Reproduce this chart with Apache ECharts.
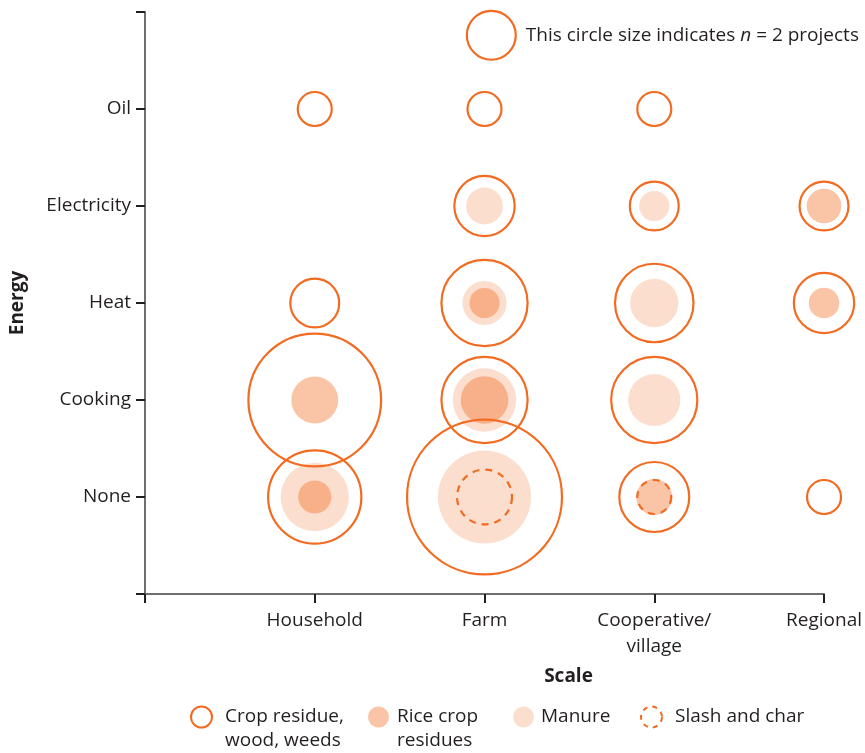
<!DOCTYPE html>
<html><head><meta charset="utf-8">
<script src="https://cdn.jsdelivr.net/npm/echarts@6/dist/echarts.min.js"></script>
<style>html,body{margin:0;padding:0;background:#fff}#c{width:865px;height:753px}</style>
</head><body><div id="c"></div>
<script>
// ---- data ----
const scaleCats = ['Household', 'Farm', 'Cooperative/\nvillage', 'Regional'];
const energyCats = ['None', 'Cooking', 'Heat', 'Electricity', 'Oil'];
// [scale, energy, number of projects]
const cropResidue = [
  ['Household','Oil',1],['Household','Heat',2],['Household','Cooking',14],['Household','None',7],
  ['Farm','Oil',1],['Farm','Electricity',3],['Farm','Heat',6],['Farm','Cooking',6],['Farm','None',19],
  ['Cooperative/\nvillage','Oil',1],['Cooperative/\nvillage','Electricity',2],['Cooperative/\nvillage','Heat',5],['Cooperative/\nvillage','Cooking',6],['Cooperative/\nvillage','None',4],
  ['Regional','Electricity',2],['Regional','Heat',3],['Regional','None',1]
];
const riceResidues = [
  ['Household','Cooking',1.7],['Household','None',0.85],
  ['Farm','Heat',0.7],['Farm','Cooking',1.75],
  ['Cooperative/\nvillage','None',1],
  ['Regional','Electricity',0.93],['Regional','Heat',0.72]
];
const manure = [
  ['Household','None',3.6],
  ['Farm','Electricity',1.05],['Farm','Heat',1.5],['Farm','Cooking',3.1],['Farm','None',6.7],
  ['Cooperative/\nvillage','Electricity',0.7],['Cooperative/\nvillage','Heat',1.8],['Cooperative/\nvillage','Cooking',2.1]
];
const slashChar = [
  ['Farm','None',2.5],['Cooperative/\nvillage','None',1]
];
// size key bubble: [scale position, energy position, n]
const keyBubble = [[2.04, 5.76, 2]];

// ---- chart ----
const ORANGE = '#F26B21';
const TXT = '#231F20';
const FONT = 'Open Sans';
const FS = 19;
const xi = s => scaleCats.indexOf(s) + 1;
const yi = s => energyCats.indexOf(s) + 1;
const toPts = arr => arr.map(d => [xi(d[0]), yi(d[1]), d[2]]);
const size = n => 36 * Math.sqrt(n);

const chart = echarts.init(document.getElementById('c'));
const legendBase = {
  orient: 'horizontal', padding: 0, itemWidth: 21, itemHeight: 21, itemGap: 0,
  selectedMode: false,
  textStyle: { color: TXT, fontFamily: FONT, fontSize: FS, lineHeight: 24 }
};
chart.setOption({
  animation: false,
  grid: { left: 143, right: 40, top: 12, bottom: 159, containLabel: false },
  xAxis: {
    type: 'value', min: 0, max: 4, interval: 1,
    name: 'Scale', nameLocation: 'middle', nameGap: 73,
    nameTextStyle: { color: TXT, fontFamily: FONT, fontSize: FS, fontWeight: 'bold', padding: [0, 0, 0, 168] },
    axisLine: { lineStyle: { color: '#6D6E71', width: 2 } },
    axisTick: { length: 9, lineStyle: { color: TXT, width: 2 } },
    axisLabel: { margin: 14, color: TXT, fontFamily: FONT, fontSize: FS, lineHeight: 26,
      formatter: v => scaleCats[v - 1] || '' },
    splitLine: { show: false }
  },
  yAxis: {
    type: 'value', min: 0, max: 6, interval: 1,
    name: 'Energy', nameLocation: 'middle', nameGap: 118,
    nameTextStyle: { color: TXT, fontFamily: FONT, fontSize: FS, fontWeight: 'bold' },
    axisLine: { show: true, lineStyle: { color: '#6D6E71', width: 2 } },
    axisTick: { show: true, length: 9, lineStyle: { color: TXT, width: 2 } },
    axisLabel: { margin: 14, color: TXT, fontFamily: FONT, fontSize: FS,
      formatter: v => energyCats[v - 1] || '' },
    splitLine: { show: false }
  },
  legend: [
    Object.assign({}, legendBase, { left: 190, top: 681, data: [{ name: 'Crop residue, wood, weeds', icon: 'circle' }],
      formatter: () => '\nCrop residue,\nwood, weeds', textStyle: Object.assign({}, legendBase.textStyle, { padding: [0, 0, 0, 8] }) }),
    Object.assign({}, legendBase, { left: 368, top: 681, data: [{ name: 'Rice crop residues', icon: 'circle' }],
      formatter: () => '\nRice crop\nresidues', textStyle: Object.assign({}, legendBase.textStyle, { padding: [0, 0, 0, 3] }) }),
    Object.assign({}, legendBase, { left: 513, top: 705, data: [{ name: 'Manure', icon: 'circle' }],
      textStyle: Object.assign({}, legendBase.textStyle, { padding: [0, 0, 0, 2] }) }),
    Object.assign({}, legendBase, { left: 640, top: 705,
      data: [{ name: 'Slash and char', icon: 'circle',
        itemStyle: { color: 'rgba(255,255,255,0)', borderColor: ORANGE, borderWidth: 2, borderType: [5, 5] } }],
      textStyle: Object.assign({}, legendBase.textStyle, { padding: [0, 0, 0, 8] }) })
  ],
  series: [
    { name: 'Manure', type: 'scatter', z: 1, silent: true, data: toPts(manure),
      symbolSize: v => size(v[2]),
      itemStyle: { color: 'rgba(242,107,33,0.22)', borderWidth: 0, opacity: 1 } },
    { name: 'Rice crop residues', type: 'scatter', z: 2, silent: true, data: toPts(riceResidues),
      symbolSize: v => size(v[2]),
      itemStyle: { color: 'rgba(242,107,33,0.40)', borderWidth: 0, opacity: 1 } },
    { name: 'Slash and char', type: 'scatter', z: 3, silent: true, data: toPts(slashChar),
      symbolSize: v => size(v[2]) - 2,
      itemStyle: { color: 'rgba(255,255,255,0)', borderColor: ORANGE, borderWidth: 2.2, borderType: [7, 6], opacity: 1 } },
    { name: 'Crop residue, wood, weeds', type: 'scatter', z: 4, silent: true, data: toPts(cropResidue),
      symbolSize: v => size(v[2]) - 2,
      itemStyle: { color: 'rgba(255,255,255,0)', borderColor: ORANGE, borderWidth: 2.2, opacity: 1 } },
    { name: 'key', type: 'scatter', z: 4, silent: true, data: keyBubble,
      symbolSize: v => size(v[2]) - 2,
      itemStyle: { color: 'rgba(255,255,255,0)', borderColor: ORANGE, borderWidth: 2.2, opacity: 1 },
      label: { show: true, position: 'right', distance: 9,
        formatter: '{a|This circle size indicates }{i|n}{a| = 2 projects}',
        rich: {
          a: { color: TXT, fontFamily: FONT, fontSize: FS },
          i: { color: TXT, fontFamily: FONT, fontSize: FS, fontStyle: 'italic' }
        } } }
  ]
});
</script></body></html>
